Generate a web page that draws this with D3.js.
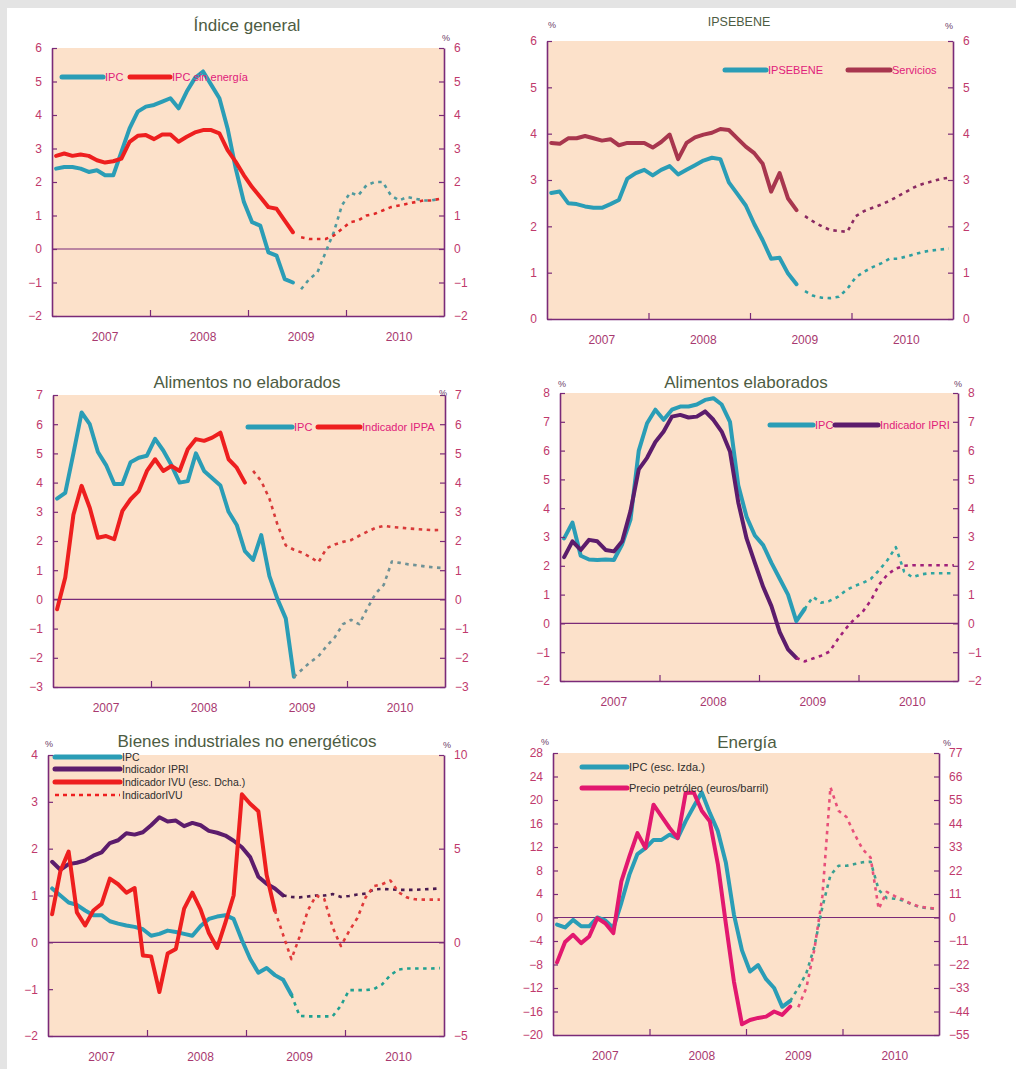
<!DOCTYPE html>
<html><head><meta charset="utf-8">
<script src="https://cdn.jsdelivr.net/npm/d3@7"></script>
<style>
html,body{margin:0;padding:0;background:#fff;}
svg{display:block;}
text{font-family:"Liberation Sans",Arial,sans-serif;}
</style></head><body>
<svg id="c" width="1016" height="1069"></svg>
<script>
// ---------- categories ----------
const years = ["2007","2008","2009","2010"];   // 48 monthly slots, Jan 2007 = index 0
const yearTicks = [12,24,36];

// ---------- tick labels ----------
const ticksP1 = [-2,-1,0,1,2,3,4,5,6];
const ticksP2 = [0,1,2,3,4,5,6];
const ticksP3 = [-3,-2,-1,0,1,2,3,4,5,6,7];
const ticksP4 = [-2,-1,0,1,2,3,4,5,6,7,8];
const ticksP5L = [-2,-1,0,1,2,3,4];
const ticksP5R = [-5,0,5,10];
const ticksP6L = [-20,-16,-12,-8,-4,0,4,8,12,16,20,24,28];
const ticksP6R = [-55,-44,-33,-22,-11,0,11,22,33,44,55,66,77];

// ---------- series (observed from index 0, forecasts from given start) ----------
// Panel 1: Índice general
const p1Ipc = [2.4,2.45,2.45,2.4,2.3,2.35,2.2,2.2,2.9,3.6,4.1,4.25,4.3,4.4,4.5,4.2,4.7,5.1,5.3,4.9,4.5,3.6,2.4,1.4,0.8,0.7,-0.1,-0.2,-0.9,-1.0];
const p1IpcPrevStart = 30;
const p1IpcPrev = [-1.2,-0.9,-0.7,-0.1,0.5,1.3,1.68,1.6,1.9,2.0,2.0,1.6,1.45,1.55,1.5,1.45,1.45,1.5];
const p1Sin = [2.78,2.85,2.78,2.82,2.78,2.65,2.58,2.62,2.7,3.2,3.38,3.4,3.28,3.42,3.42,3.2,3.35,3.48,3.55,3.55,3.45,2.95,2.6,2.2,1.85,1.55,1.25,1.2,0.85,0.5];
const p1SinPrevStart = 30;
const p1SinPrev = [0.35,0.3,0.3,0.3,0.4,0.6,0.8,0.85,1.0,1.05,1.15,1.25,1.3,1.35,1.4,1.45,1.45,1.5];

// Panel 2: IPSEBENE
const p2Ipsebene = [2.72,2.75,2.5,2.48,2.43,2.4,2.4,2.48,2.57,3.03,3.15,3.22,3.1,3.22,3.3,3.12,3.22,3.32,3.42,3.48,3.45,2.95,2.7,2.45,2.05,1.7,1.3,1.32,0.98,0.75];
const p2IpsebenePrevStart = 30;
const p2IpsebenePrev = [0.6,0.5,0.46,0.45,0.48,0.65,0.9,1.02,1.12,1.2,1.3,1.3,1.35,1.4,1.45,1.48,1.5,1.52];
const p2Serv = [3.8,3.78,3.9,3.9,3.95,3.9,3.85,3.88,3.75,3.8,3.8,3.8,3.7,3.82,3.98,3.45,3.8,3.92,3.98,4.02,4.1,4.08,3.9,3.72,3.58,3.35,2.75,3.15,2.6,2.35];
const p2ServPrevStart = 30;
const p2ServPrev = [2.22,2.1,2.0,1.92,1.9,1.88,2.22,2.33,2.4,2.47,2.55,2.65,2.75,2.85,2.92,2.97,3.02,3.05];

// Panel 3: Alimentos no elaborados
const p3Ipc = [3.45,3.65,5.0,6.4,6.0,5.05,4.6,3.95,3.95,4.7,4.85,4.92,5.5,5.1,4.6,4.0,4.05,5.0,4.4,4.15,3.9,3.0,2.55,1.65,1.35,2.2,0.8,0.0,-0.65,-2.65];
const p3IpcPrevStart = 29;
const p3IpcPrev = [-2.65,-2.4,-2.15,-1.95,-1.6,-1.3,-0.85,-0.7,-0.85,-0.3,0.2,0.5,1.3,1.25,1.2,1.17,1.13,1.1,1.08];
const p3Ippa = [-0.34,0.75,2.9,3.89,3.14,2.11,2.17,2.06,3.03,3.43,3.71,4.4,4.8,4.4,4.57,4.4,5.14,5.49,5.43,5.54,5.71,4.8,4.51,4.0];
const p3IppaPrevStart = 24;
const p3IppaPrev = [4.4,4.05,3.45,2.55,1.85,1.7,1.6,1.45,1.27,1.75,1.88,1.97,2.03,2.18,2.32,2.45,2.52,2.48,2.46,2.43,2.41,2.39,2.37,2.38];

// Panel 4: Alimentos elaborados
const p4Ipc = [2.95,3.5,2.35,2.22,2.2,2.22,2.2,2.75,3.6,6.0,6.95,7.42,7.07,7.42,7.53,7.53,7.6,7.76,7.82,7.6,7.0,4.8,3.7,3.05,2.72,2.1,1.55,1.0,0.08,0.5];
const p4IpcPrevStart = 29;
const p4IpcPrev = [0.5,0.92,0.72,0.78,0.92,1.15,1.3,1.4,1.55,1.85,2.2,2.65,1.8,1.6,1.7,1.74,1.74,1.74,1.74];
const p4Ipri = [2.3,2.85,2.55,2.9,2.85,2.55,2.5,2.85,3.9,5.35,5.75,6.3,6.66,7.18,7.24,7.15,7.18,7.36,7.07,6.66,5.97,4.2,2.95,2.1,1.27,0.6,-0.3,-0.9,-1.2];
const p4IpriPrevStart = 28;
const p4IpriPrev = [-1.2,-1.32,-1.22,-1.12,-0.98,-0.55,-0.17,0.15,0.4,0.8,1.35,1.7,1.9,2.0,2.02,2.02,2.02,2.02,2.02,2.02];

// Panel 5: Bienes industriales no energéticos (IVU on right scale)
const p5Ipc = [1.15,1.0,0.85,0.8,0.68,0.58,0.58,0.45,0.4,0.36,0.33,0.28,0.14,0.18,0.25,0.22,0.18,0.14,0.35,0.5,0.55,0.58,0.5,0.05,-0.35,-0.65,-0.55,-0.7,-0.8,-1.12];
const p5IpcPrevStart = 29;
const p5IpcPrev = [-1.12,-1.57,-1.58,-1.58,-1.58,-1.58,-1.35,-1.02,-1.02,-1.02,-1.0,-0.9,-0.7,-0.58,-0.56,-0.56,-0.56,-0.56,-0.55];
const p5Ipri = [1.72,1.55,1.67,1.7,1.75,1.85,1.92,2.12,2.18,2.33,2.3,2.35,2.5,2.67,2.58,2.6,2.48,2.55,2.5,2.38,2.34,2.28,2.17,2.03,1.82,1.4,1.25,1.15,1.0];
const p5IpriPrevStart = 28;
const p5IpriPrev = [1.0,0.97,0.96,0.98,1.0,1.0,1.03,0.97,0.99,1.02,1.04,1.13,1.14,1.13,1.12,1.12,1.12,1.13,1.14,1.15];
const p5Ivu = [1.5,3.8,4.85,1.6,0.9,1.7,2.05,3.4,3.1,2.65,2.9,-0.7,-0.75,-2.65,-0.6,-0.35,1.8,2.65,1.75,0.5,-0.3,1.05,2.5,7.9,7.4,7.0,3.6,1.7];
const p5IvuPrevStart = 27;
const p5IvuPrev = [1.7,0.4,-0.9,0.3,1.7,2.5,2.3,0.8,-0.2,0.6,1.3,2.4,3.0,3.1,3.3,2.67,2.4,2.3,2.28,2.28,2.28];

// Panel 6: Energía (oil price on right scale)
const p6Ipc = [-1.2,-1.7,-0.4,-1.5,-1.5,0.0,-0.5,-1.8,2.5,7.3,10.8,11.8,13.2,13.2,14.1,13.5,16.4,18.9,21.3,17.8,14.7,9.3,0.5,-5.6,-9.2,-8.1,-10.5,-12.0,-15.2,-14.2];
const p6IpcPrevStart = 29;
const p6IpcPrev = [-14.2,-12.0,-9.5,-5.0,1.8,7.2,8.8,8.8,9.1,9.4,9.5,4.7,3.3,3.2,2.9,2.3,1.8,1.6,1.5];
const p6Oil = [-21,-11.5,-8.1,-12.0,-8.9,-0.3,-2.7,-7.3,16.9,28.6,39.5,32.5,52.8,47.3,41.9,37.2,58.3,58.5,50,45,25,-3,-30,-50,-48,-47,-46.4,-44,-45.6,-41.7];
const p6OilPrevStart = 30;
const p6OilPrev = [-42,-33,-15,10,61,50,47,39,32,28,4,12,10,8.5,6.5,5.2,4.6,4.2];

// ---------- styles ----------
const BG="#fce1ca", AX="#7a2a78", TK="#c0396c", YR="#a8396f", TITLE="#4d5c43", PCT="#6b3a66";
const TEAL="#2a9db6", RED="#ee1f1f", MAROON="#a8364e", PURPLE="#5c1c6c", PINK="#e2186f";

const svg = d3.select("#c");
svg.append("rect").attr("width",1016).attr("height",1069).attr("fill","#fff");
svg.append("rect").attr("x",0).attr("y",0).attr("width",1016).attr("height",8).attr("fill","#e4e4e4");
svg.append("rect").attr("x",0).attr("y",0).attr("width",7).attr("height",1069).attr("fill","#e4e4e4");

const intFmt = d3.format("d");

function drawPanel(p){
  const g = svg.append("g");
  const x = d3.scaleLinear().domain([0,48]).range([p.x0,p.x1]);
  const yL = d3.scaleLinear().domain(p.leftDomain).range([p.y1,p.y0]);
  const yR = p.rightDomain ? d3.scaleLinear().domain(p.rightDomain).range([p.y1,p.y0]) : yL;
  g.append("rect").attr("x",p.x0).attr("y",p.y0).attr("width",p.x1-p.x0).attr("height",p.y1-p.y0).attr("fill",BG);
  if (p.leftDomain[0] < 0)
    g.append("line").attr("x1",p.x0).attr("x2",p.x1).attr("y1",yL(0)).attr("y2",yL(0))
      .attr("stroke",AX).attr("stroke-width",1.2);

  p.series.forEach(s=>{
    const y = s.axis==="R" ? yR : yL;
    const line = d3.line().x((d,i)=>x(s.start+i+0.5)).y(d=>y(d));
    g.append("path").datum(s.values).attr("d",line).attr("fill","none")
      .attr("stroke",s.color).attr("stroke-width",s.dash?2.6:4)
      .attr("stroke-dasharray",s.dash?"3.5,4.5":null)
      .attr("stroke-linejoin","round").attr("stroke-linecap",s.dash?"butt":"round");
  });

  const styleAxis = sel => {
    sel.select(".domain").attr("stroke",AX).attr("stroke-width",1.6);
    sel.selectAll(".tick line").attr("stroke",AX).attr("stroke-width",1.2);
    sel.selectAll(".tick text").attr("fill",TK).attr("font-size",12)
      .attr("font-family","'Liberation Sans',Arial,sans-serif");
  };
  g.append("g").attr("transform",`translate(${p.x0},0)`)
    .call(d3.axisLeft(yL).tickValues(p.leftTicks).tickFormat(intFmt).tickSizeInner(-5).tickSizeOuter(0).tickPadding(10))
    .call(styleAxis);
  g.append("g").attr("transform",`translate(${p.x1},0)`)
    .call(d3.axisRight(yR).tickValues(p.rightTicks).tickFormat(intFmt).tickSizeInner(-5).tickSizeOuter(0).tickPadding(10))
    .call(styleAxis);
  const gb = g.append("g").attr("transform",`translate(0,${p.y1})`)
    .call(d3.axisBottom(x).tickValues(yearTicks).tickSizeInner(-6).tickSizeOuter(0).tickFormat(""));
  gb.select(".domain").attr("stroke",AX).attr("stroke-width",1.6);
  gb.selectAll(".tick line").attr("stroke",AX).attr("stroke-width",1.2);

  g.selectAll("text.yr").data(years).enter().append("text").attr("class","yr")
    .attr("x",(d,i)=>x(i*12+6)+4).attr("y",p.y1+25).attr("text-anchor","middle")
    .attr("font-size",12).attr("fill",YR).text(d=>d);

  g.append("text").attr("x",p.titleX).attr("y",p.titleY).attr("text-anchor","middle")
    .attr("font-size",p.titleSize).attr("fill",TITLE).text(p.title);

  p.pct.forEach(c=>g.append("text").attr("x",c[0]).attr("y",c[1]).attr("text-anchor","middle")
    .attr("font-size",9).attr("fill",PCT).text("%"));

  p.legend.forEach(l=>{
    g.append("line").attr("x1",l.x1).attr("x2",l.x2).attr("y1",l.y).attr("y2",l.y)
      .attr("stroke",l.color).attr("stroke-width",l.dash?2.6:5)
      .attr("stroke-dasharray",l.dash?"4,4":null).attr("stroke-linecap",l.dash?"butt":"round");
    g.append("text").attr("x",l.tx).attr("y",l.y+4).attr("font-size",l.size||11)
      .attr("fill",l.textColor).text(l.text);
  });
}

const LEGP = "#e0207a", LEGD = "#2d2d2d";

drawPanel({x0:52,x1:444,y0:48,y1:316,leftDomain:[-2,6],leftTicks:ticksP1,rightDomain:[-2,6],rightTicks:ticksP1,
  title:"Índice general",titleX:247,titleY:31,titleSize:17,pct:[[446,41]],
  series:[
    {values:p1Ipc,start:0,color:TEAL},
    {values:p1Sin,start:0,color:RED},
    {values:p1IpcPrev,start:p1IpcPrevStart,color:"#4f9a9e",dash:true},
    {values:p1SinPrev,start:p1SinPrevStart,color:"#e02828",dash:true}],
  legend:[
    {x1:62,x2:103,y:77,color:TEAL,text:"IPC",tx:105,textColor:LEGP},
    {x1:130,x2:170,y:77,color:RED,text:"IPC sin energía",tx:172,textColor:LEGP}]});

drawPanel({x0:547,x1:953,y0:41,y1:319,leftDomain:[0,6],leftTicks:ticksP2,rightDomain:[0,6],rightTicks:ticksP2,
  title:"IPSEBENE",titleX:739,titleY:26,titleSize:12.5,pct:[[552,28],[949,29]],
  series:[
    {values:p2Serv,start:0,color:MAROON},
    {values:p2Ipsebene,start:0,color:TEAL},
    {values:p2ServPrev,start:p2ServPrevStart,color:"#8a2a62",dash:true},
    {values:p2IpsebenePrev,start:p2IpsebenePrevStart,color:"#2e9fa0",dash:true}],
  legend:[
    {x1:725,x2:766,y:70,color:TEAL,text:"IPSEBENE",tx:768,textColor:LEGP},
    {x1:848,x2:890,y:70,color:MAROON,text:"Servicios",tx:892,textColor:LEGP}]});

drawPanel({x0:53,x1:445,y0:395,y1:687,leftDomain:[-3,7],leftTicks:ticksP3,rightDomain:[-3,7],rightTicks:ticksP3,
  title:"Alimentos no elaborados",titleX:247,titleY:388,titleSize:17,pct:[[443,396]],
  series:[
    {values:p3Ipc,start:0,color:TEAL},
    {values:p3Ippa,start:0,color:RED},
    {values:p3IpcPrev,start:p3IpcPrevStart,color:"#6f9296",dash:true},
    {values:p3IppaPrev,start:p3IppaPrevStart,color:"#d83a3a",dash:true}],
  legend:[
    {x1:248,x2:292,y:427,color:TEAL,text:"IPC",tx:294,textColor:LEGP},
    {x1:318,x2:360,y:427,color:RED,text:"Indicador IPPA",tx:362,textColor:LEGP}]});

drawPanel({x0:560,x1:958,y0:393,y1:681,leftDomain:[-2,8],leftTicks:ticksP4,rightDomain:[-2,8],rightTicks:ticksP4,
  title:"Alimentos elaborados",titleX:746,titleY:388,titleSize:17,pct:[[562,387],[958,387]],
  series:[
    {values:p4Ipc,start:0,color:TEAL},
    {values:p4Ipri,start:0,color:PURPLE},
    {values:p4IpcPrev,start:p4IpcPrevStart,color:"#30a5a0",dash:true},
    {values:p4IpriPrev,start:p4IpriPrevStart,color:"#a0207a",dash:true}],
  legend:[
    {x1:770,x2:813,y:425,color:TEAL,text:"IPC",tx:815,textColor:LEGP},
    {x1:835,x2:878,y:425,color:PURPLE,text:"Indicador IPRI",tx:880,textColor:LEGP}]});

drawPanel({x0:48,x1:444,y0:755,y1:1036,leftDomain:[-2,4],leftTicks:ticksP5L,rightDomain:[-5,10],rightTicks:ticksP5R,
  title:"Bienes industriales no energéticos",titleX:247,titleY:747,titleSize:17,pct:[[49,747],[447,748]],
  series:[
    {values:p5Ipc,start:0,color:TEAL},
    {values:p5Ipri,start:0,color:PURPLE},
    {values:p5Ivu,start:0,color:RED,axis:"R"},
    {values:p5IpcPrev,start:p5IpcPrevStart,color:"#20a090",dash:true},
    {values:p5IpriPrev,start:p5IpriPrevStart,color:"#4a1a50",dash:true},
    {values:p5IvuPrev,start:p5IvuPrevStart,color:"#e03a3a",dash:true,axis:"R"}],
  legend:[
    {x1:55,x2:120,y:757,color:TEAL,text:"IPC",tx:122,textColor:LEGD,size:10.5},
    {x1:55,x2:120,y:769,color:PURPLE,text:"Indicador IPRI",tx:122,textColor:LEGD,size:10.5},
    {x1:55,x2:120,y:782,color:RED,text:"Indicador IVU (esc. Dcha.)",tx:122,textColor:LEGD,size:10.5},
    {x1:55,x2:120,y:795,color:RED,dash:true,text:"IndicadorIVU",tx:122,textColor:LEGD,size:10.5}]});

drawPanel({x0:553,x1:939,y0:753,y1:1035,leftDomain:[-20,28],leftTicks:ticksP6L,rightDomain:[-55,77],rightTicks:ticksP6R,
  title:"Energía",titleX:747,titleY:748,titleSize:17,pct:[[545,745],[947,746]],
  series:[
    {values:p6Ipc,start:0,color:TEAL},
    {values:p6Oil,start:0,color:PINK,axis:"R"},
    {values:p6IpcPrev,start:p6IpcPrevStart,color:"#3a9f90",dash:true},
    {values:p6OilPrev,start:p6OilPrevStart,color:"#e8507a",dash:true,axis:"R"}],
  legend:[
    {x1:582,x2:627,y:767,color:TEAL,text:"IPC (esc. Izda.)",tx:629,textColor:LEGD},
    {x1:582,x2:627,y:788,color:PINK,text:"Precio petróleo (euros/barril)",tx:629,textColor:LEGD}]});
</script>
</body></html>
